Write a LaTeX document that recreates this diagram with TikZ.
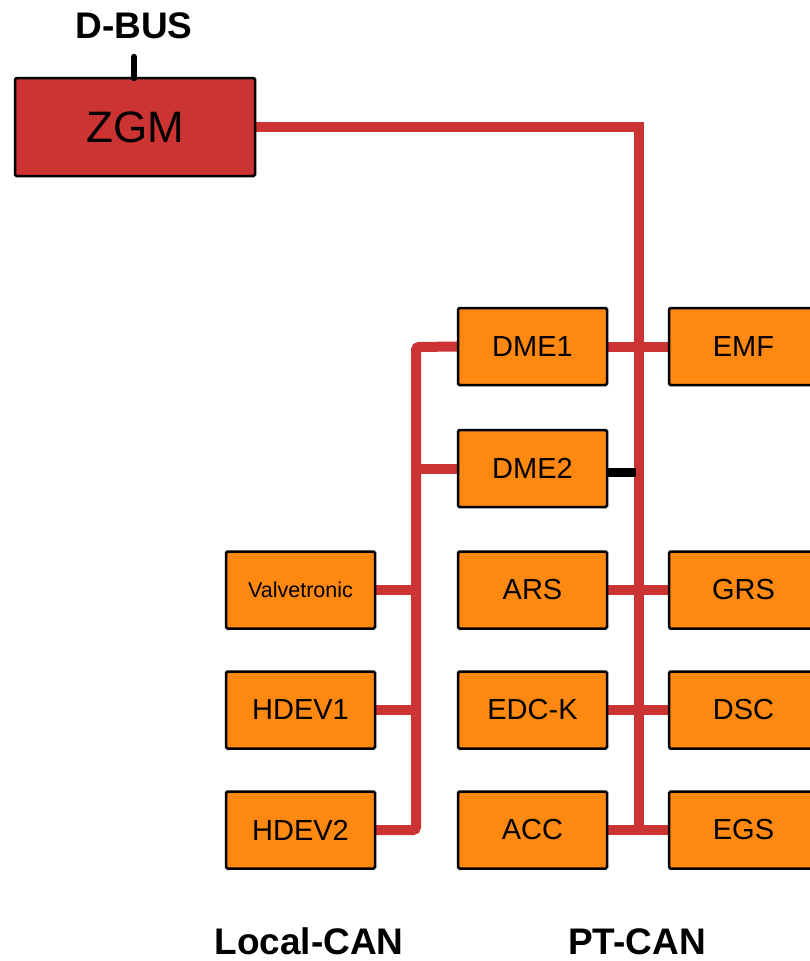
\documentclass[tikz,border=0pt]{standalone}
\usepackage{fontspec}
\setmainfont{Liberation Sans}
\usetikzlibrary{backgrounds}
\definecolor{busred}{RGB}{204,51,51}
\definecolor{ecuorange}{RGB}{255,136,17}
\begin{document}
\begin{tikzpicture}[x=1pt,y=-1pt,
  ecu/.style={draw=black, line width=2.5pt, fill=ecuorange, rounded corners=1.5pt,
    minimum width=149pt, minimum height=77pt, inner sep=0pt, outer sep=0pt,
    font=\fontsize{29}{32}\selectfont},
  gw/.style={draw=black, line width=2.5pt, fill=busred, rounded corners=1.5pt,
    minimum width=240pt, minimum height=98pt, inner sep=0pt, outer sep=0pt,
    font=\fontsize{44}{48}\selectfont},
  bus/.style={draw=busred, line width=10pt},
  buslabel/.style={font=\bfseries\fontsize{37}{40}\selectfont, anchor=base, inner sep=0pt}]
\useasboundingbox (0,0) rectangle (809,961);

% nodes
\node[gw] (zgm) at (135,127) {ZGM};
\node[buslabel] (dbus) at (134,38) {D-BUS};
\node[ecu] (dme1) at (532.5,346.5) {DME1};
\node[ecu] (emf) at (743.5,346.5) {EMF};
\node[ecu] (dme2) at (532.5,468.5) {DME2};
\node[ecu, font=\fontsize{21.5}{24}\selectfont] (valve) at (300.5,590) {Valvetronic};
\node[ecu] (ars) at (532.5,590) {ARS};
\node[ecu] (grs) at (743.5,590) {GRS};
\node[ecu] (hdev1) at (300.5,710) {HDEV1};
\node[ecu] (edck) at (532.5,710) {EDC-K};
\node[ecu] (dsc) at (743.5,710) {DSC};
\node[ecu] (hdev2) at (300.5,830) {HDEV2};
\node[ecu] (acc) at (532.5,830) {ACC};
\node[ecu] (egs) at (743.5,830) {EGS};
\node[buslabel] (lcan) at (309,954) {Local-CAN};
\node[buslabel] (ptcan) at (637,954) {PT-CAN};

% bus coordinates
\coordinate (pttop) at (639,127);
\coordinate (ptbot) at (639,830);
\coordinate (lctop) at (416,347);
\coordinate (lcbot) at (416,830);
\coordinate (dstub) at (636,472);
\coordinate (dbustop) at (134,57);

\begin{scope}[on background layer]
% PT-CAN
\draw[bus] (zgm.east) -- (pttop) -- (ptbot);
\draw[bus] (dme1.east) -- (emf.west);
\draw[bus] (ars.east) -- (grs.west);
\draw[bus] (edck.east) -- (dsc.west);
\draw[bus] (acc.east) -- (egs.west);
% Local-CAN
\draw[bus, rounded corners=3pt] (dme1.west) -- (lctop) -- (lcbot) -- (hdev2.east);
\draw[bus] (dme2.west) -- (dme2.west -| lctop);
\draw[bus] (valve.east) -- (valve.east -| lctop);
\draw[bus] (hdev1.east) -- (hdev1.east -| lctop);
\end{scope}

% black stubs
\draw[black, line width=9pt] (dme2.east |- dstub) -- (dstub);
\draw[black, line width=6.5pt, line cap=round] (zgm.north -| dbustop) -- (dbustop);
\end{tikzpicture}
\end{document}
